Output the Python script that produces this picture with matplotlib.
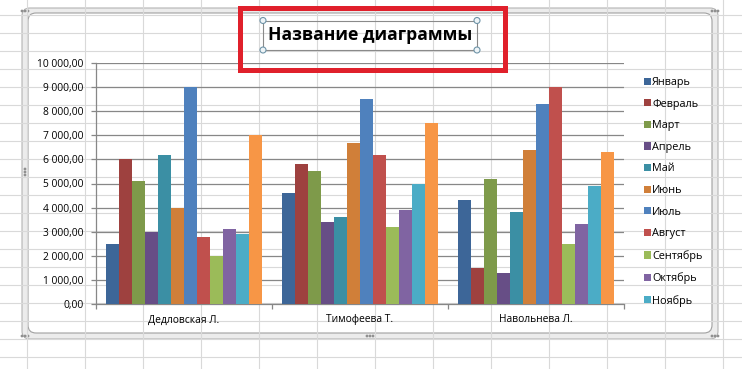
import matplotlib
matplotlib.use("Agg")
import matplotlib.pyplot as plt
from matplotlib.patches import Rectangle, FancyBboxPatch, Circle, Patch
from matplotlib.ticker import FuncFormatter, FixedLocator
import numpy as np

plt.rcParams['font.family'] = ['Open Sans', 'DejaVu Sans']

# ---------------- data ----------------
categories = ["Дедловская Л.", "Тимофеева Т.", "Навольнева Л."]
months = ["Январь", "Февраль", "Март", "Апрель", "Май", "Июнь",
          "Июль", "Август", "Сентябрь", "Октябрь", "Ноябрь", "Декабрь"]
values = {
    "Январь":   [2500, 4600, 4300],
    "Февраль":  [6000, 5800, 1500],
    "Март":     [5100, 5500, 5200],
    "Апрель":   [3000, 3400, 1300],
    "Май":      [6200, 3600, 3800],
    "Июнь":     [4000, 6700, 6400],
    "Июль":     [9000, 8500, 8300],
    "Август":   [2800, 6200, 9000],
    "Сентябрь": [2000, 3200, 2500],
    "Октябрь":  [3100, 3900, 3300],
    "Ноябрь":   [2900, 5000, 4900],
    "Декабрь":  [7000, 7500, 6300],
}
colors = ["#3D6698", "#9E413F", "#7E9A4A", "#674E86", "#3B8FA4", "#D07F39",
          "#4F81BD", "#C0504D", "#9BBB59", "#8064A2", "#4BACC6", "#F79646"]
legend_months = months[:11]
y_ticks = list(range(0, 10001, 1000))
title_text = "Название диаграммы"

W, H = 742, 369
fig = plt.figure(figsize=(W / 100, H / 100), dpi=100)
fig.patch.set_facecolor("white")

# ---------------- background (spreadsheet + chart frame) ----------------
bg = fig.add_axes([0, 0, 1, 1], zorder=0)
bg.set_xlim(0, W)
bg.set_ylim(H, 0)
bg.axis("off")
grid_c = "#D9D9D9"
for x in np.arange(27, W, 58):
    bg.plot([x, x], [0, H], color=grid_c, lw=0.8)
for y in np.arange(15, H, 18):
    bg.plot([0, W], [y, y], color=grid_c, lw=0.8)

outer = FancyBboxPatch((22, 8), 696, 331, boxstyle="round,pad=0,rounding_size=8",
                       facecolor="#ECECEC", edgecolor="#B4B4B4", lw=0.8)
bg.add_patch(outer)
inner = FancyBboxPatch((28, 13), 684, 320, boxstyle="round,pad=0,rounding_size=8",
                       facecolor="white", edgecolor="#A0A0A0", lw=0.8)
bg.add_patch(inner)
# frame handle dots
for (hx, hy) in [(25, 11), (25, 336), (715, 336), (715, 11), (25, 172), (370, 336)]:
    for d in (-2, 0, 2):
        if hx in (25, 715) and hy not in (11, 336):
            bg.add_patch(Circle((hx, hy + d * 1.5), 0.7, color="#909090"))
        else:
            bg.add_patch(Circle((hx + d * 1.5, hy), 0.7, color="#909090"))

# ---------------- chart ----------------
left, right, top, bottom = 96, 624, 63, 304
ax = fig.add_axes([left / W, (H - bottom) / H, (right - left) / W, (bottom - top) / H], zorder=2)
ax.patch.set_alpha(0)
n = len(months)
w = 1 / 13.5
x = np.arange(len(categories))
for i, m in enumerate(months):
    ax.bar(x + (i - (n - 1) / 2) * w, values[m], width=w, color=colors[i],
           zorder=3, linewidth=0)

ax.set_xlim(-0.5, len(categories) - 0.5)
ax.set_ylim(0, 10000)
ax.yaxis.set_major_locator(FixedLocator(y_ticks))
ax.yaxis.set_major_formatter(FuncFormatter(
    lambda v, p: f"{v:,.2f}".replace(",", " ").replace(".", ",")))
ax.grid(axis="y", color="#878787", lw=0.9, zorder=1)
ax.set_axisbelow(True)
for s in ("top", "right"):
    ax.spines[s].set_visible(False)
for s in ("left", "bottom"):
    ax.spines[s].set_color("#878787")
    ax.spines[s].set_linewidth(0.9)
ax.tick_params(axis="y", length=3.6, width=0.9, color="#878787", pad=5.5,
               labelsize=7.4, labelcolor="black")
ax.set_xticks(np.arange(-0.5, len(categories)), labels=[""] * (len(categories) + 1))
ax.set_xticks(x, labels=categories, minor=True)
ax.tick_params(axis="x", which="major", length=3.6, width=0.9, color="#878787")
ax.tick_params(axis="x", which="minor", length=0, pad=7.5, labelsize=7.4)

handles = [Patch(facecolor=colors[i], edgecolor="none") for i in range(len(legend_months))]
leg = fig.legend(handles, legend_months, loc="upper left",
                 bbox_to_anchor=(644 / W, 1 - 77 / H), frameon=False,
                 fontsize=7.8, handlelength=0.64, handleheight=0.64,
                 handletextpad=0.12, labelspacing=0.98, borderaxespad=0,
                 borderpad=0)
leg.set_zorder(4)

# ---------------- foreground (title, selection, red box) ----------------
fg = fig.add_axes([0, 0, 1, 1], zorder=5)
fg.set_xlim(0, W)
fg.set_ylim(H, 0)
fg.axis("off")
fg.patch.set_alpha(0)
fg.add_patch(Rectangle((263, 20.5), 214, 29.5, fill=False, edgecolor="#8A8A8A", lw=0.8))
fg.text(370, 35.5, title_text, ha="center", va="center", fontsize=12.6,
        fontweight="bold", color="black")
for (cx, cy) in [(263, 20.5), (477, 20.5), (263, 50), (477, 50)]:
    fg.add_patch(Circle((cx, cy), 3, facecolor="#EEF4F7", edgecolor="#6F94A8", lw=0.8))
fg.add_patch(Rectangle((239.5, 7.5), 265, 62, fill=False, edgecolor="#E0202B", lw=3.6))

fig.savefig("out.png", dpi=100)
